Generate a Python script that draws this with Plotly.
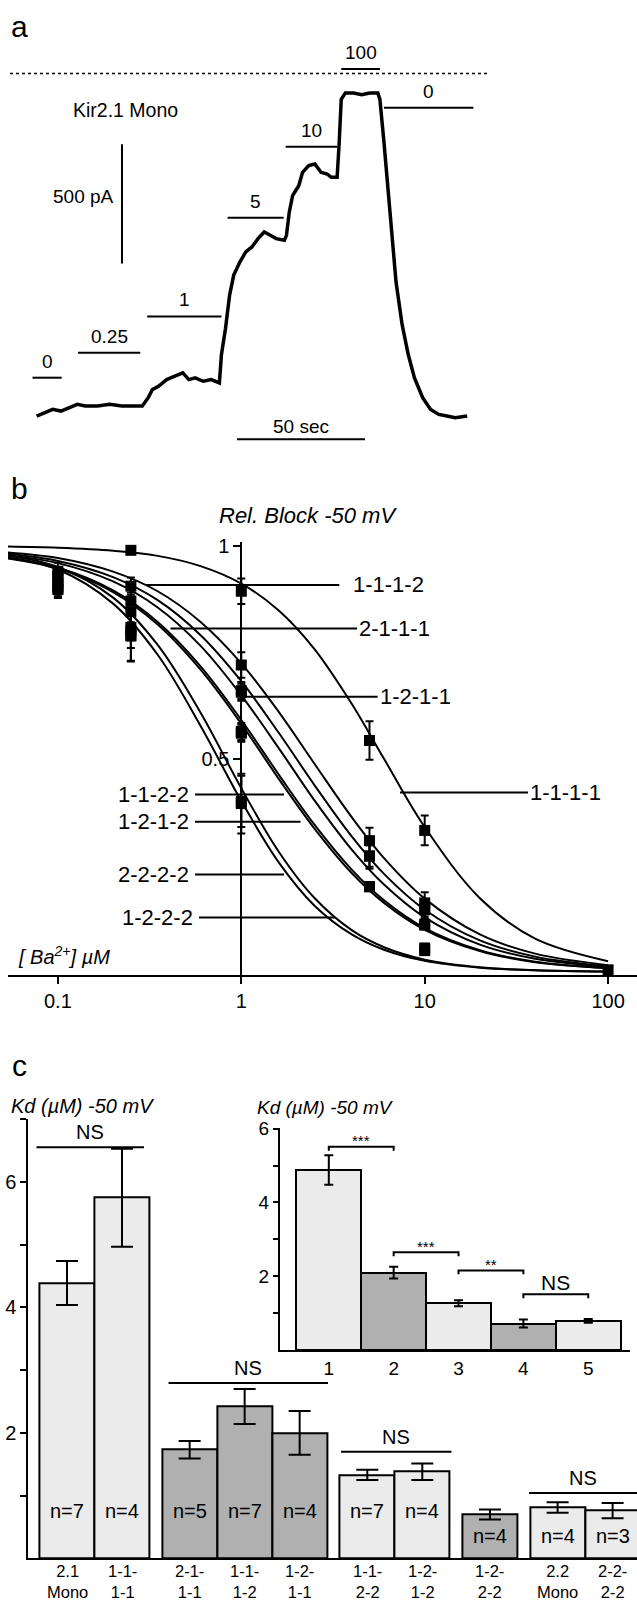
import plotly.graph_objects as go

W, H = 637, 1604
FONT = "Liberation Sans, Arial, Helvetica, sans-serif"

# ================= DATA =================
# ---- Panel a: current trace ----
trace_time_s = [0, 3.2, 6.3, 9.5, 12.7, 15.9, 19.0, 23.8, 28.6, 33.3, 38.1, 41.3, 43.6, 45.2, 47.6,
                50.8, 54.0, 57.1, 59.5, 61.9, 65.1, 68.2, 71.4, 72.2, 73.8, 75.4, 77.0, 79.4, 81.7,
                84.1, 86.5, 88.9, 91.3, 93.6, 96.8, 97.6, 98.7, 100.0, 102.4, 103.9, 106.3, 108.7,
                111.1, 113.5, 115.1, 117.4, 118.2, 119.0, 120.6, 123.8, 127.0, 130.1, 133.3, 134.1,
                135.7, 137.3, 138.9, 140.4, 142.8, 145.2, 147.6, 150.8, 153.9, 157.1, 160.3, 163.5, 168.2]
trace_current_pA = [-1436, -1422, -1408, -1415, -1401, -1387, -1394, -1394, -1387, -1394, -1394, -1394,
                    -1359, -1325, -1311, -1283, -1269, -1255, -1283, -1276, -1290, -1283, -1297, -1179,
                    -1068, -929, -845, -790, -748, -727, -692, -664, -678, -692, -699, -678, -581, -512,
                    -470, -414, -386, -379, -414, -421, -435, -435, -289, -108, -81, -81, -88, -81, -81,
                    -108, -289, -498, -706, -873, -1054, -1179, -1276, -1359, -1408, -1429, -1436, -1443, -1436]
ba_labels_a = ["0", "0.25", "1", "5", "10", "100", "0"]
ba_start_s = [-1.6, 16.2, 43.2, 74.6, 97.3, 119.0, 135.7]
ba_end_s = [9.8, 40.5, 72.2, 96.5, 117.4, 134.1, 170.6]
scale_current_pA = 500
scale_time_s = 50

# ---- Panel b: relative block vs [Ba2+] ----
constructs_b = ["1-1-1-1", "1-1-1-2", "1-2-1-1", "2-1-1-1", "1-1-2-2", "1-2-1-2", "2-2-2-2", "1-2-2-2"]
fit_conc_uM = [0.05, 0.1, 0.2, 0.35, 0.6, 1, 1.6, 2.5, 4, 6, 10, 20, 40, 100]
fit_1111 = [0.998, 0.995, 0.988, 0.976, 0.952, 0.911, 0.848, 0.758, 0.629, 0.500, 0.340, 0.173, 0.078, 0.025]
fit_1112 = [0.985, 0.971, 0.939, 0.893, 0.821, 0.724, 0.610, 0.489, 0.363, 0.267, 0.172, 0.088, 0.043, 0.016]
fit_1211 = [0.982, 0.964, 0.926, 0.872, 0.790, 0.682, 0.561, 0.439, 0.318, 0.230, 0.146, 0.074, 0.036, 0.013]
fit_2111 = [0.979, 0.959, 0.916, 0.855, 0.765, 0.649, 0.525, 0.403, 0.287, 0.205, 0.128, 0.064, 0.031, 0.012]
fit_1122 = [0.972, 0.946, 0.891, 0.815, 0.709, 0.582, 0.453, 0.337, 0.232, 0.162, 0.099, 0.049, 0.023, 0.009]
fit_1212 = [0.973, 0.948, 0.895, 0.821, 0.717, 0.591, 0.463, 0.346, 0.240, 0.168, 0.103, 0.051, 0.024, 0.009]
fit_2222 = [0.978, 0.950, 0.878, 0.767, 0.608, 0.431, 0.282, 0.174, 0.098, 0.058, 0.029, 0.011, 0.004, 0.001]
fit_1222 = [0.975, 0.944, 0.864, 0.744, 0.577, 0.401, 0.257, 0.156, 0.088, 0.052, 0.026, 0.010, 0.004, 0.001]
fits_b = [fit_1111, fit_1112, fit_1211, fit_2111, fit_1122, fit_1212, fit_2222, fit_1222]

meas_conc_1111 = [0.25, 1, 5, 10, 100]
meas_val_1111 = [0.989, 0.893, 0.543, 0.332, 0.005]
meas_err_1111 = [0.006, 0.030, 0.045, 0.035, 0.004]
meas_conc_std = [0.1, 0.25, 1, 5, 10]
meas_val_1112 = [0.940, 0.905, 0.720, 0.308, 0.162]
meas_err_1112 = [0.020, 0.020, 0.030, 0.030, 0.025]
meas_val_1211 = [0.930, 0.870, 0.660, 0.272, 0.146]
meas_err_1211 = [0.020, 0.020, 0.020, 0.030, 0.020]
meas_val_2111 = [0.925, 0.845, 0.656, 0.272, 0.150]
meas_err_2111 = [0.020, 0.025, 0.020, 0.025, 0.020]
meas_val_1122 = [0.912, 0.808, 0.564, 0.200, 0.110]
meas_err_1122 = [0.020, 0.030, 0.020, 0.010, 0.010]
meas_val_1212 = [0.905, 0.800, 0.560, 0.200, 0.112]
meas_err_1212 = [0.020, 0.040, 0.020, 0.010, 0.010]
meas_conc_low = [0.1, 0.25, 1, 10]
meas_val_2222 = [0.900, 0.790, 0.400, 0.056]
meas_err_2222 = [0.020, 0.060, 0.060, 0.010]
meas_val_1222 = [0.897, 0.788, 0.395, 0.050]
meas_err_1222 = [0.020, 0.060, 0.070, 0.010]
meas_b = [(meas_conc_1111, meas_val_1111, meas_err_1111),
          (meas_conc_std, meas_val_1112, meas_err_1112),
          (meas_conc_std, meas_val_1211, meas_err_1211),
          (meas_conc_std, meas_val_2111, meas_err_2111),
          (meas_conc_std, meas_val_1122, meas_err_1122),
          (meas_conc_std, meas_val_1212, meas_err_1212),
          (meas_conc_low, meas_val_2222, meas_err_2222),
          (meas_conc_low, meas_val_1222, meas_err_1222)]
xticks_b = [0.1, 1, 10, 100]

# ---- Panel c: Kd at -50 mV ----
kd_constructs = ["2.1 Mono", "1-1-1-1", "2-1-1-1", "1-1-1-2", "1-2-1-1",
                 "1-1-2-2", "1-2-1-2", "1-2-2-2", "2.2 Mono", "2-2-2-2"]
kd_mean_uM = [4.39, 5.75, 1.73, 2.42, 2.00, 1.33, 1.38, 0.70, 0.81, 0.76]
kd_sem_uM = [0.35, 0.78, 0.14, 0.28, 0.35, 0.08, 0.13, 0.08, 0.085, 0.12]
kd_n = [7, 4, 5, 7, 4, 7, 4, 4, 4, 3]
kd_group = [0, 0, 1, 1, 1, 2, 2, 3, 4, 4]
kd_dark = [False, False, True, True, True, False, False, True, False, False]

inset_labels = ["1", "2", "3", "4", "5"]
inset_mean_uM = [4.88, 2.10, 1.27, 0.72, 0.79]
inset_sem_uM = [0.40, 0.16, 0.08, 0.11, 0.05]
inset_dark = [False, True, False, True, False]
inset_sig = ["***", "***", "**", "NS"]

# ================= LAYOUT HELPERS =================
def fx(px):
    return px / W

def fy(py):
    return 1 - py / H

LIGHT = "#ebebeb"
DARK = "#b0b0b0"

annotations = []
shapes = []

def txt(s, px, py, size=19, xa="center", ya="middle", italic=False):
    if italic:
        s = "<i>" + s + "</i>"
    annotations.append(dict(x=fx(px), y=fy(py), xref="paper", yref="paper", text=s,
                            showarrow=False, xanchor=xa, yanchor=ya,
                            font=dict(size=size, family=FONT, color="black")))

def hline(px0, px1, py, w=2, dash=None):
    shapes.append(dict(type="line", xref="paper", yref="paper", x0=fx(px0), x1=fx(px1),
                       y0=fy(py), y1=fy(py), line=dict(color="black", width=w, dash=dash)))

fig = go.Figure()

# ================= PANEL a =================
A_T0_PX, A_PX_PER_S = 36.6, 2.56
A_ZERO_PY, A_PA_PER_PX = 64.0, 4.167
a_xrange = [(0 - A_T0_PX) / A_PX_PER_S, (W - A_T0_PX) / A_PX_PER_S]
a_yrange = [-(450 - A_ZERO_PY) * A_PA_PER_PX, A_ZERO_PY * A_PA_PER_PX]

fig.add_trace(go.Scatter(x=trace_time_s, y=trace_current_pA, mode="lines",
                         line=dict(color="black", width=3.5), xaxis="x", yaxis="y",
                         showlegend=False, hoverinfo="skip"))

def a_tx(px):
    return (px - A_T0_PX) / A_PX_PER_S

def a_cur(py):
    return -(py - A_ZERO_PY) * A_PA_PER_PX

# zero-current dotted line
shapes.append(dict(type="line", xref="x", yref="y", x0=a_tx(10), x1=a_tx(487), y0=0, y1=0,
                   line=dict(color="black", width=1.5, dash="dot")))
# application bars
bar_line_py = [370, 345, 308.3, 209, 137.7, 59.3, 98.3]
for lab, t0, t1, py in zip(ba_labels_a, ba_start_s, ba_end_s, bar_line_py):
    shapes.append(dict(type="line", xref="x", yref="paper", x0=t0, x1=t1, y0=fy(py), y1=fy(py),
                       line=dict(color="black", width=2)))
    annotations.append(dict(x=(t0 + t1) / 2, y=fy(py - 4), xref="x", yref="paper", text=lab,
                            showarrow=False, xanchor="center", yanchor="bottom",
                            font=dict(size=19, family=FONT, color="black")))
# scale bars
sb_t = a_tx(122)
sb_top = a_cur(135)
shapes.append(dict(type="line", xref="x", yref="y", x0=sb_t, x1=sb_t, y0=sb_top,
                   y1=sb_top - scale_current_pA, line=dict(color="black", width=2)))
txt(f"{scale_current_pA} pA", 116, 188, xa="right")
hb_t0 = a_tx(237)
hb_y = a_cur(432)
shapes.append(dict(type="line", xref="x", yref="y", x0=hb_t0, x1=hb_t0 + scale_time_s, y0=hb_y,
                   y1=hb_y, line=dict(color="black", width=2)))
txt(f"{scale_time_s} sec", A_T0_PX + A_PX_PER_S * (hb_t0 + scale_time_s / 2), 419)
txt("Kir2.1 Mono", 125.5, 100.5, size=19.5)
txt("a", 19, 17, size=30)

# ================= PANEL b =================
B_X1_PX, B_DEC_PX = 241.3, 183.4
B_Y0_PY, B_PX_PER_UNIT = 968.0, 429.0
b_xrange = [(8 - B_X1_PX) / B_DEC_PX, (W - B_X1_PX) / B_DEC_PX]
b_yrange = [(B_Y0_PY - 970.8) / B_PX_PER_UNIT, (B_Y0_PY - 535) / B_PX_PER_UNIT]

for name, fit in zip(constructs_b, fits_b):
    fig.add_trace(go.Scatter(x=fit_conc_uM, y=fit, mode="lines", line=dict(color="black", width=2,
                             shape="spline", smoothing=1.0), xaxis="x2", yaxis="y2",
                             showlegend=False, hoverinfo="skip", name=name))
for name, (cc, vv, ee) in zip(constructs_b, meas_b):
    fig.add_trace(go.Scatter(x=cc, y=vv, mode="markers",
                             marker=dict(symbol="square", size=11, color="black"),
                             error_y=dict(type="data", array=ee, visible=True, color="black",
                                          thickness=2, width=4),
                             xaxis="x2", yaxis="y2", showlegend=False, hoverinfo="skip",
                             cliponaxis=False, name=name))

# label leader lines: (label, line x0 px, line x1 px, py, side)
b_labels = [("1-1-1-2", 146, 339.3, 578.5, "right"), ("2-1-1-1", 170.5, 357, 622.5, "right"),
            ("1-2-1-1", 243.6, 377.6, 691.1, "right"), ("1-1-1-1", 400, 528, 787.5, "right"),
            ("1-1-2-2", 195, 284, 789.3, "left"), ("1-2-1-2", 195, 300.5, 816.8, "left"),
            ("2-2-2-2", 195, 284, 869.9, "left"), ("1-2-2-2", 199, 335, 913.3, "left")]
for lab, x0, x1, py, side in b_labels:
    hline(x0, x1, py, w=2)
    if side == "right":
        txt(lab, x1 + (12 if lab == "1-1-1-2" else 0), py, size=22, xa="left")
    else:
        txt(lab, x0 - 4, py, size=22, xa="right")

txt("Rel. Block -50 mV", 308, 509, size=22, italic=True)
txt("[ Ba<sup>2+</sup>] µM", 16, 951, size=20, xa="left", italic=True)
txt("b", 19, 481, size=30)

# ================= PANEL c (main) =================
C_X0_PX, C_BAR_PX, C_GAP = 67.0, 55.0, 0.23
C_Y0_PY, C_PX_PER_UNIT = 1558.0, 63.1
kd_pos = [i + C_GAP * g for i, g in enumerate(kd_group)]
c_xrange = [(28.4 - C_X0_PX) / C_BAR_PX, (W - C_X0_PX) / C_BAR_PX]

def c_px(pos):
    return C_X0_PX + C_BAR_PX * pos

fig.add_trace(go.Bar(x=kd_pos, y=kd_mean_uM, width=1.0,
                     marker=dict(color=[DARK if d else LIGHT for d in kd_dark],
                                 line=dict(color="black", width=2)),
                     error_y=dict(type="data", array=kd_sem_uM, visible=True, color="black",
                                  thickness=2, width=11),
                     xaxis="x3", yaxis="y3", showlegend=False, hoverinfo="skip"))

for p, m, n, name in zip(kd_pos, kd_mean_uM, kd_n, kd_constructs):
    txt(f"n={n}", c_px(p), 1510 if m > 1 else 1536, size=20)
    if " " in name:
        l1, l2 = name.split(" ")
    else:
        l1, l2 = name[:4], name[4:]
    txt(l1 + "<br>" + l2, c_px(p), 1603, size=16.5, ya="bottom")

# NS bars over groups: (line x0 px, line x1 px, line py)
ns_lines = [(36.5, 144, 1144.3), (168.5, 328, 1381.7), (341, 451.5, 1450.8), (529, 637, 1492.2)]
for (x0, x1, py) in ns_lines:
    hline(x0, x1, py, w=2)
    txt("NS", (x0 + x1) / 2 if x1 < 630 else 583, py - 15, size=20)

txt("Kd (µM) -50 mV", 9, 1103, size=20, xa="left", italic=True)
txt("c", 19, 1062, size=30)

# ================= PANEL c (inset) =================
I_X0_PX, I_BAR_PX = 328.8, 64.86
I_Y0_PY, I_PX_PER_UNIT = 1348.5, 37.13
inset_pos = [1, 2, 3, 4, 5]
i_xrange = [1 + (280 - I_X0_PX) / I_BAR_PX, 1 + (630 - I_X0_PX) / I_BAR_PX]

def i_px(pos):
    return I_X0_PX + I_BAR_PX * (pos - 1)

fig.add_trace(go.Bar(x=inset_pos, y=inset_mean_uM, width=1.0,
                     marker=dict(color=[DARK if d else LIGHT for d in inset_dark],
                                 line=dict(color="black", width=2)),
                     error_y=dict(type="data", array=inset_sem_uM, visible=True, color="black",
                                  thickness=2, width=4.5),
                     xaxis="x4", yaxis="y4", showlegend=False, hoverinfo="skip"))

sig_py = [1144, 1250, 1268.3, 1292.3]
for k, (s, py) in enumerate(zip(inset_sig, sig_py)):
    x0, x1 = i_px(inset_pos[k]), i_px(inset_pos[k + 1])
    path = (f"M {fx(x0)},{fy(py + 4)} L {fx(x0)},{fy(py)} L {fx(x1)},{fy(py)} "
            f"L {fx(x1)},{fy(py + 4)}")
    shapes.append(dict(type="path", xref="paper", yref="paper", path=path,
                       line=dict(color="black", width=2)))
    if s == "NS":
        txt(s, (x0 + x1) / 2, py - 12, size=21)
    else:
        txt(s, (x0 + x1) / 2, py - 6, size=15)

txt("Kd (µM) -50 mV", 255, 1104, size=19, xa="left", italic=True)

# ================= AXES =================
axis_common = dict(showgrid=False, zeroline=False, linecolor="black", linewidth=2,
                   tickcolor="black", tickwidth=2,
                   tickfont=dict(size=20, family=FONT, color="black"))
minor_c = dict(tickvals=[1, 3, 5, 7], ticks="outside", ticklen=6, tickwidth=2, tickcolor="black",
               showgrid=False)
minor_i = dict(tickvals=[1, 3, 5], ticks="outside", ticklen=5, tickwidth=2, tickcolor="black",
               showgrid=False)

fig.update_layout(
    width=W, height=H, autosize=False,
    margin=dict(l=0, r=0, t=0, b=0),
    paper_bgcolor="white", plot_bgcolor="rgba(0,0,0,0)",
    font=dict(family=FONT, color="black"),
    hovermode=False, bargap=0,
    xaxis=dict(domain=[0, 1], range=a_xrange, visible=False, anchor="y"),
    yaxis=dict(domain=[fy(450), 1], range=a_yrange, visible=False, anchor="x"),
    xaxis2=dict(axis_common, type="log", domain=[fx(8), 1], range=b_xrange, anchor="y2",
                showline=True, ticks="outside", ticklen=7, tickvals=xticks_b,
                ticktext=[str(v) for v in xticks_b]),
    yaxis2=dict(axis_common, domain=[fy(970.8), fy(535)], range=b_yrange, anchor="free",
                position=fx(B_X1_PX), showline=True, ticks="outside", ticklen=7,
                tickvals=[0.5, 1], ticktext=["0.5", "1"]),
    xaxis3=dict(axis_common, domain=[fx(28.4), 1], range=c_xrange, anchor="y3", showline=True,
                showticklabels=False, ticks=""),
    yaxis3=dict(axis_common, domain=[fy(1558), fy(1116.3)], range=[0, 7], anchor="x3",
                showline=True, ticks="outside", ticklen=6, tickvals=[2, 4, 6],
                ticktext=["2", "4", "6"], minor=minor_c),
    xaxis4=dict(axis_common, domain=[fx(280), fx(630)], range=i_xrange, anchor="y4",
                showline=True, ticks="", tickvals=inset_pos, ticktext=inset_labels,
                tickfont=dict(size=19, family=FONT, color="black")),
    yaxis4=dict(axis_common, domain=[fy(I_Y0_PY), fy(1125)],
                range=[0, (I_Y0_PY - 1125) / I_PX_PER_UNIT], anchor="x4", showline=True,
                ticks="outside", ticklen=5, tickvals=[2, 4, 6], ticktext=["2", "4", "6"],
                minor=minor_i, tickfont=dict(size=19, family=FONT, color="black")),
    annotations=annotations,
    shapes=shapes,
)

fig.write_html("out.html", config={"displayModeBar": False},
               post_script="document.body.style.margin='0px';document.body.style.overflow='hidden';")
